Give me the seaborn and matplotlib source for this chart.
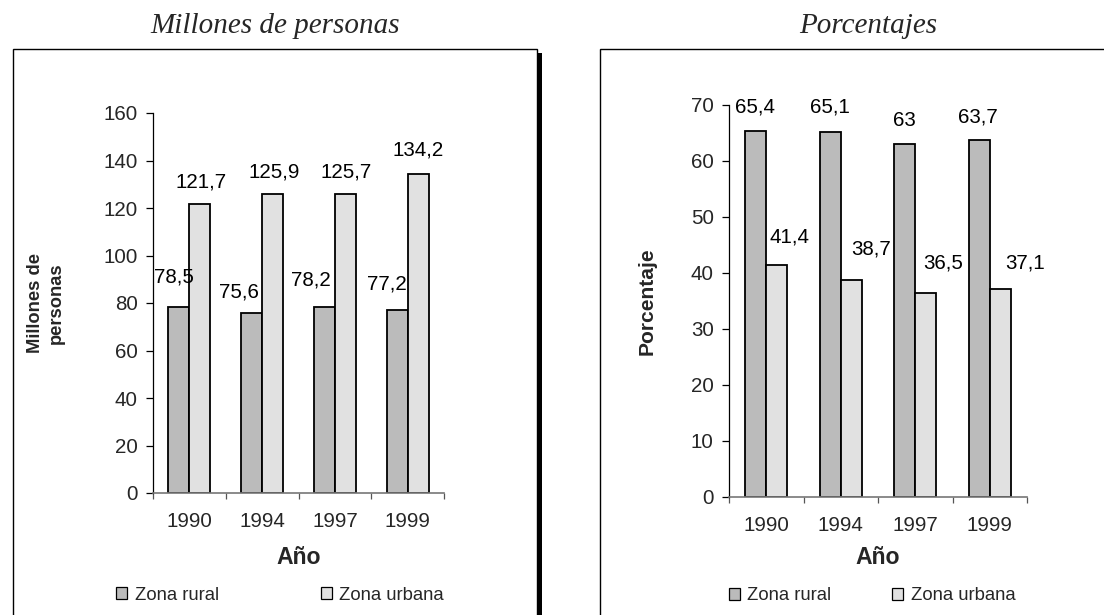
import matplotlib
matplotlib.use("Agg")
import matplotlib.pyplot as plt
from matplotlib.patches import Rectangle, Patch
import pandas as pd
import seaborn as sns

# --- data -------------------------------------------------------------
anios = ["1990", "1994", "1997", "1999"]
zonas = ["Zona rural", "Zona urbana"]
millones_rural = [78.5, 75.6, 78.2, 77.2]
millones_urbana = [121.7, 125.9, 125.7, 134.2]
pct_rural = [65.4, 65.1, 63.0, 63.7]
pct_urbana = [41.4, 38.7, 36.5, 37.1]

# --- style ------------------------------------------------------------
sns.set_style("white")
plt.rcParams["font.family"] = ["Liberation Sans", "DejaVu Sans"]

W, H = 1104, 615
fig = plt.figure(figsize=(W / 100, H / 100), dpi=100)
fig.patch.set_facecolor("white")

colores = ["#bbbbbb", "#e1e1e1"]


def fx(px):
    return px / W


def fy(py):
    return 1 - py / H


def largo(rural, urbana):
    return pd.DataFrame({
        "anio": anios * 2,
        "zona": [zonas[0]] * len(anios) + [zonas[1]] * len(anios),
        "valor": list(rural) + list(urbana),
    })


def etiqueta(v):
    return f"{v:g}".replace(".", ",")


def panel(rect_px, df, ymax, ystep, width, ylabel, ylabel_size, ylabel_x,
          xlabel_y, tick_pad, offsets):
    x0, y0, x1, y1 = rect_px
    ax = fig.add_axes([fx(x0), fy(y1), fx(x1 - x0), (y1 - y0) / H])
    sns.barplot(data=df, x="anio", y="valor", hue="zona", palette=colores,
                saturation=1, width=width, edgecolor="black", linewidth=1.3,
                ax=ax, legend=False)
    ax.set_xlim(-0.5, len(anios) - 0.5)
    ax.set_ylim(0, ymax)
    ax.set_yticks(range(0, ymax + 1, ystep))
    ax.tick_params(axis="y", direction="out", length=5, width=0.9,
                   color="black", labelsize=14.8, pad=6, left=True)
    ax.set_xticks(range(len(anios)))
    ax.set_xticklabels(anios)
    ax.set_xticks([i - 0.5 for i in range(len(anios) + 1)], minor=True)
    ax.tick_params(axis="x", which="major", length=0, labelsize=14.8,
                   pad=tick_pad)
    ax.tick_params(axis="x", which="minor", direction="out", length=4.5,
                   width=0.9, color="#555555", bottom=True)
    for s in ("top", "right"):
        ax.spines[s].set_visible(False)
    ax.spines["left"].set_color("black")
    ax.spines["left"].set_linewidth(0.9)
    ax.spines["bottom"].set_color("#777777")
    ax.spines["bottom"].set_linewidth(1.2)
    ax.grid(False)
    ax.set_facecolor("none")

    ax.set_xlabel("Año", fontsize=16.6, fontweight="bold")
    ax.xaxis.set_label_coords(0.5, (y1 - xlabel_y) / (y1 - y0))
    ax.xaxis.label.set_va("center")
    ax.set_ylabel(ylabel, fontsize=ylabel_size, fontweight="bold",
                  linespacing=1.35, multialignment="center")
    ax.yaxis.set_label_coords((ylabel_x - x0) / (x1 - x0), 0.5)
    ax.yaxis.label.set_va("center")

    for cont, offs in zip(ax.containers, offsets):
        for bar, (dx, dy) in zip(cont, offs):
            v = bar.get_height()
            ax.annotate(etiqueta(v),
                        xy=(bar.get_x() + bar.get_width() / 2, v),
                        xytext=(dx, dy), textcoords="offset pixels",
                        ha="center", va="center", fontsize=14.8,
                        color="black", annotation_clip=False)
    return ax


def leyenda(cx, cy, spacing):
    handles = [Patch(facecolor=c, edgecolor="black", linewidth=0.9)
               for c in colores]
    fig.legend(handles, zonas, loc="center", bbox_to_anchor=(fx(cx), fy(cy)),
               ncol=2, frameon=False, fontsize=13.3, handlelength=0.6,
               handleheight=0.6, handletextpad=0.4, columnspacing=spacing,
               borderpad=0, borderaxespad=0)


# --- panel frames -----------------------------------------------------
fig.add_artist(Rectangle((fx(12.5), fy(625)), fx(537 - 12.5), (625 - 49) / H,
                         transform=fig.transFigure, facecolor="white",
                         edgecolor="black", linewidth=1.0, zorder=0))
fig.add_artist(Rectangle((fx(537), fy(625)), fx(5), (625 - 53) / H,
                         transform=fig.transFigure, facecolor="black",
                         edgecolor="none", zorder=0))
fig.add_artist(Rectangle((fx(599.5), fy(625)), fx(1120 - 599.5), (625 - 49) / H,
                         transform=fig.transFigure, facecolor="white",
                         edgecolor="black", linewidth=1.0, zorder=0))

# --- titles -----------------------------------------------------------
titulo = dict(fontsize=21, style="italic",
              family=["Liberation Serif", "DejaVu Serif"],
              ha="center", va="baseline")
fig.text(fx(275), fy(33), "Millones de personas", **titulo)
fig.text(fx(868), fy(33), "Porcentajes", **titulo)

# --- left panel: millions of people -----------------------------------
panel((153, 113, 444, 493), largo(millones_rural, millones_urbana),
      160, 20, 0.58, "Millones de\npersonas", 13.2, 46, 557, 14,
      [[(-5, 30), (-13, 21), (-13, 27), (-10, 26)],
       [(1, 22), (2, 22), (1, 22), (0, 24)]])
leyenda(280, 595, 5.5)

# --- right panel: percentages -----------------------------------------
panel((729, 105, 1027, 497), largo(pct_rural, pct_urbana),
      70, 10, 0.57, "Porcentaje", 15.1, 647, 557, 14,
      [[(-1, 24), (0, 25), (0, 24), (-1, 23)],
       [(13, 28), (20, 31), (17, 30), (25, 26)]])
leyenda(872, 596, 3.3)

fig.savefig("out.png", dpi=100, facecolor="white")
